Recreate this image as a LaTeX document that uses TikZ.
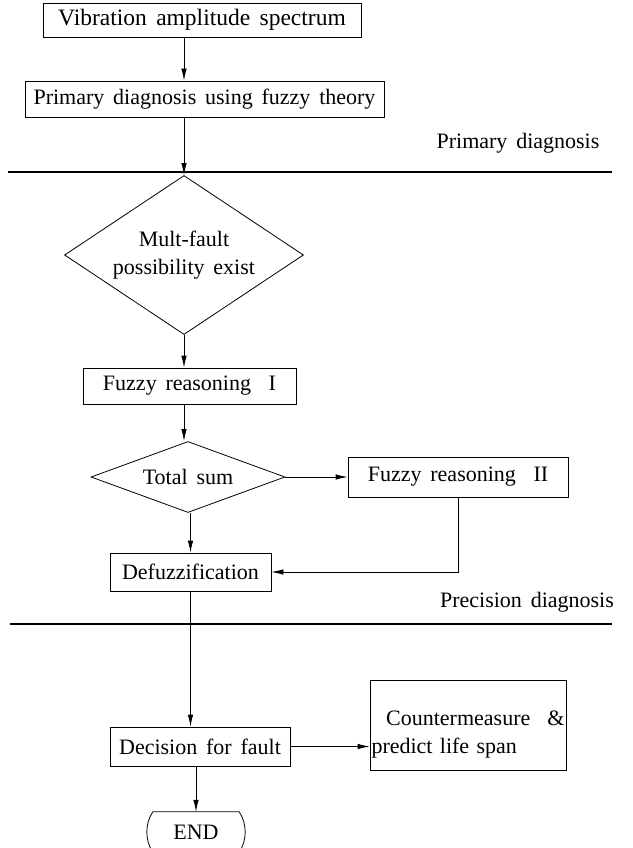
\documentclass[tikz,border=0pt]{standalone}
\usepackage{fontspec}
\setmainfont{Liberation Serif}[WordSpace=1.6]
\usetikzlibrary{shapes.geometric,arrows.meta}
\begin{document}
\begin{tikzpicture}[x=1pt,y=-1pt,
  txt/.style={font=\fontsize{22}{28}\selectfont},
  box/.style={txt,draw,line width=0.8pt,inner sep=0pt},
  dia/.style={txt,draw,diamond,line width=0.8pt,inner sep=0pt,align=center},
  arr/.style={line width=0.8pt,-{Latex[length=12pt,width=5.5pt]}},
  ln/.style={line width=0.8pt},
  sep/.style={line width=1.4pt}]
\useasboundingbox (0,0) rectangle (632,848);
% nodes
\node[box,minimum width=318pt,minimum height=34pt,font=\fontsize{23.5}{28}\selectfont] (b1) at (202,20) {Vibration amplitude spectrum};
\node[box,minimum width=359pt,minimum height=36pt] (b2) at (204.5,99) {Primary diagnosis using fuzzy theory};
\node[txt] (lab1) at (518,143) {Primary diagnosis};
\coordinate (l1a) at (8,172);
\coordinate (l1b) at (612,172);
\node[dia,aspect=1.5,minimum width=239pt,minimum height=159pt] (d1) at (184,255) {Mult-fault\\possibility exist};
\node[box,minimum width=213pt,minimum height=36pt] (f1) at (189.5,386) {Fuzzy reasoning~ I};
\node[dia,aspect=2.7,minimum width=194pt,minimum height=71pt] (d2) at (188,477) {Total sum};
\node[box,minimum width=220pt,minimum height=40pt] (f2) at (458,477) {Fuzzy reasoning~ II};
\node[box,minimum width=161pt,minimum height=38pt] (df) at (190.5,572) {Defuzzification};
\node[txt] (lab2) at (527,602) {Precision diagnosis};
\coordinate (l2a) at (10,624);
\coordinate (l2b) at (612,624);
\node[box,minimum width=180pt,minimum height=39pt] (dec) at (200,746.5) {Decision for fault};
\node[box,minimum width=196pt,minimum height=90pt,text width=193pt,align=left,inner sep=1.5pt] (cm) at (468,725) {\rule{0pt}{34pt}~~Countermeasure\hfill\&\\predict life span};
\node[txt,minimum width=86pt,minimum height=40pt,inner sep=0pt] (end) at (196,832) {END};
% separators
\draw[sep] (l1a) -- (l1b);
\draw[sep] (l2a) -- (l2b);
% END outline
\begin{scope}
\clip (0,0) rectangle (632,848);
\draw[ln] (end.north west) -- (end.north east)
  .. controls +(8,12) and +(8,-12) .. (end.south east)
  -- (end.south west)
  .. controls +(-8,-12) and +(-8,12) .. (end.north west);
\end{scope}
% connectors
\draw[arr] (b1.south -| d1.north) -- (b2.north -| d1.north);
\draw[arr] (b2.south -| d1.north) -- (d1.north);
\draw[arr] (d1.south) -- (f1.north -| d1.south);
\draw[arr] (f1.south -| d1.south) -- (d1.south |- d2.north);
\draw[arr] (d2.east) -- (f2.west);
\draw[arr] (d2.south -| df.north) -- (df.north);
\draw[arr] (f2.south) |- (df.east);
\draw[arr] (df.south) -- (dec.north -| df.south);
\draw[arr] (dec.east) -- (cm.west |- dec.east);
\draw[arr] (dec.south -| end.north) -- (end.north);
\end{tikzpicture}
\end{document}
